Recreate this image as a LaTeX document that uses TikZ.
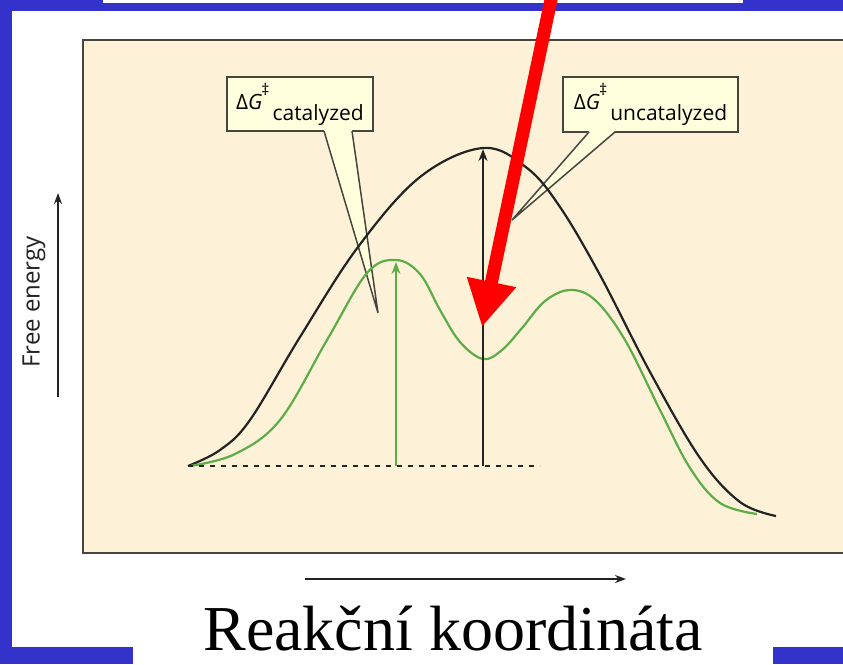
\documentclass[tikz,border=0pt]{standalone}
\usepackage{fontspec}
\setmainfont{Open Sans}
\newfontfamily\titlefont{Liberation Serif}
\usetikzlibrary{arrows.meta}
\definecolor{slideblue}{RGB}{51,51,204}
\definecolor{panel}{RGB}{253,242,216}
\definecolor{callfill}{RGB}{255,255,222}
\definecolor{curvegreen}{RGB}{92,172,72}
\definecolor{inkgray}{RGB}{35,35,35}
\definecolor{framegray}{RGB}{70,70,62}
\newcommand{\dGlabel}[1]{Δ\textit{G}\kern-1pt\raisebox{14pt}{\fontsize{16}{16}\selectfont ‡}\kern3pt\raisebox{-11pt}{#1}}

\begin{document}
\begin{tikzpicture}[x=1pt,y=-1pt,every node/.style={inner sep=0pt,outer sep=0pt},
  callbox/.style={draw=framegray,line width=1.5pt,fill=callfill,minimum width=146pt,minimum height=54pt,text=black,font=\fontsize{21}{24}\selectfont},
  curve/.style={line width=2.2pt},
  axisarrow/.style={line width=1.8pt,draw=inkgray,-{Stealth[length=11pt,width=8pt]}}]
  \useasboundingbox (0,0) rectangle (843,664);
  \clip (0,0) rectangle (843,664);
  \fill[slideblue] (0,0) rectangle (843,664);
  \fill[white] (103,0) rectangle (743,3);
  \fill[white] (12,11) rectangle (843,647);
  \fill[white] (133,647) rectangle (773,664);
  \filldraw[fill=panel,draw=framegray,line width=2pt] (83,40) rectangle (850,553);
  \coordinate (cattip) at (378,313);
  \coordinate (uncattip) at (512,220);
  \node[callbox] (catbox) at (300,104) {\dGlabel{catalyzed}};
  \node[callbox,minimum width=175pt,minimum height=55pt] (uncatbox) at (650.5,104.5) {\dGlabel{uncatalyzed}};
  \fill[callfill] ([xshift=24pt,yshift=1pt]catbox.south) -- (cattip) -- ([xshift=52pt,yshift=1pt]catbox.south) -- cycle;
  \draw[framegray,line width=1.5pt] ([xshift=24pt]catbox.south) -- (cattip) -- ([xshift=52pt]catbox.south);
  \fill[callfill] ([xshift=-61.5pt,yshift=1pt]uncatbox.south) -- (uncattip) -- ([xshift=-35.5pt,yshift=1pt]uncatbox.south) -- cycle;
  \draw[framegray,line width=1.5pt] ([xshift=-61.5pt]uncatbox.south) -- (uncattip) -- ([xshift=-35.5pt]uncatbox.south);
  \draw[curve,inkgray] plot[smooth,tension=0.6] coordinates {(188,466) (220,450) (250,420) (300,337) (358,247) (420,177) (483,148) (527,168) (560,207) (600,275) (650,372) (700,458) (740,502) (776,516)};
  \draw[curve,curvegreen] plot[smooth,tension=0.6] coordinates {(190,466) (235,454) (280,420) (327,340) (367,273) (396,260) (420,274) (440,310) (460,342) (483,359) (502,350) (522,328) (545,301) (570,290) (595,300) (625,340) (660,410) (690,468) (720,503) (757,514)};
  \coordinate (catbase) at (396,466);
  \coordinate (catpeak) at (396,262);
  \coordinate (uncatbase) at (483,466);
  \coordinate (uncatpeak) at (483,149);
  \coordinate (dashend) at (540,466);
  \draw[inkgray,line width=1.8pt,dash pattern=on 5pt off 6pt] (188,466) -- (dashend);
  \draw[curvegreen,line width=2pt,-{Stealth[length=12pt,width=9pt]}] (catbase) -- (catpeak);
  \draw[inkgray,line width=2pt,-{Stealth[length=12pt,width=9pt]}] (uncatbase) -- (uncatpeak);
  \draw[axisarrow] (58,397) -- (58,193);
  \draw[axisarrow] (305,579) -- (626,579);
  \node[rotate=90,text=inkgray,font=\fontsize{24}{26}\selectfont] (ylabel) at (34,302) {Free energy};
  \node[anchor=base,font=\titlefont\fontsize{64}{70}\selectfont] (xlabel) at (453,650) {Reakční koordináta};
  \coordinate (redstart) at (552,-5);
  \coordinate (redtip) at (482,327);
  \draw[red,line width=13pt,-{Triangle[length=46pt,width=47pt]}] (redstart) -- (redtip);
\end{tikzpicture}
\end{document}
